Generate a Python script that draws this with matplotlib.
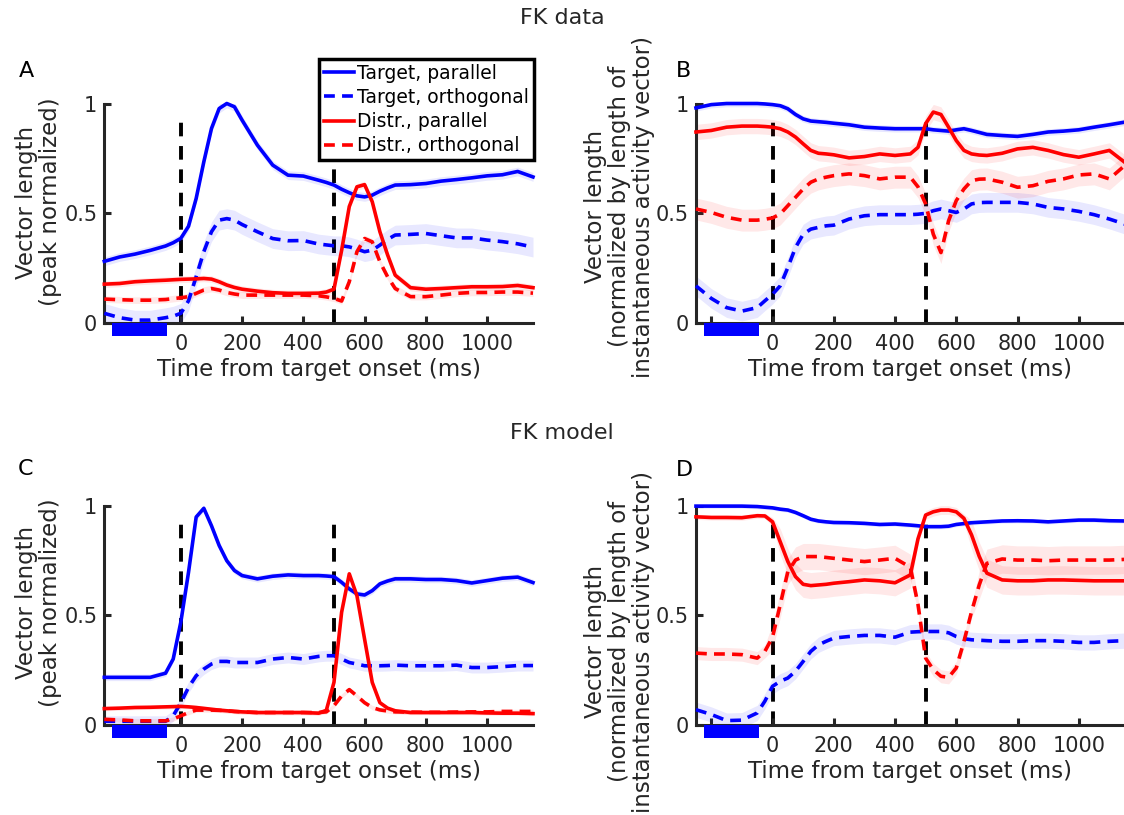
import matplotlib.pyplot as plt
import numpy as np

# time axis (ms from target onset), shared by all panels
t = [-250, -200, -150, -100, -50, -25, 0, 25, 50, 75, 100, 125, 150, 175, 200,
     250, 300, 350, 400, 450, 475, 500, 525, 550, 575, 600, 625, 650, 675, 700,
     750, 800, 850, 900, 950, 1000, 1050, 1100, 1150]

# Panel A: FK data, peak normalized
A_tp = [0.28, 0.30, 0.313, 0.33, 0.35, 0.365, 0.385, 0.44, 0.567, 0.734, 0.886, 0.977, 1.0, 0.985, 0.924,
        0.81, 0.719, 0.673, 0.669, 0.65, 0.64, 0.628, 0.609, 0.593, 0.579, 0.574, 0.582, 0.60, 0.615, 0.628,
        0.63, 0.635, 0.646, 0.653, 0.661, 0.67, 0.675, 0.69, 0.665]
A_to = [0.043, 0.023, 0.012, 0.012, 0.023, 0.03, 0.043, 0.10, 0.21, 0.324, 0.415, 0.468, 0.475, 0.468, 0.448,
        0.415, 0.384, 0.374, 0.375, 0.359, 0.355, 0.351, 0.351, 0.346, 0.336, 0.324, 0.331, 0.354, 0.38, 0.40,
        0.403, 0.407, 0.397, 0.387, 0.387, 0.377, 0.37, 0.36, 0.345]
A_dp = [0.176, 0.179, 0.187, 0.191, 0.194, 0.196, 0.198, 0.199, 0.20, 0.202, 0.199, 0.187, 0.172, 0.161, 0.153,
        0.144, 0.137, 0.134, 0.134, 0.135, 0.14, 0.153, 0.33, 0.53, 0.62, 0.63, 0.552, 0.415, 0.31, 0.217,
        0.16, 0.153, 0.156, 0.16, 0.164, 0.164, 0.165, 0.17, 0.16]
A_do = [0.108, 0.105, 0.103, 0.103, 0.106, 0.11, 0.114, 0.119, 0.134, 0.149, 0.156, 0.149, 0.138, 0.131, 0.126,
        0.126, 0.126, 0.126, 0.126, 0.123, 0.118, 0.111, 0.099, 0.187, 0.324, 0.384, 0.369, 0.278, 0.21, 0.156,
        0.119, 0.119, 0.126, 0.134, 0.138, 0.138, 0.14, 0.14, 0.135]

# Panel B: FK data, normalized by instantaneous activity
B_tp = [0.98, 0.995, 1.0, 1.0, 1.0, 0.998, 0.995, 0.99, 0.976, 0.95, 0.93, 0.92, 0.917, 0.914, 0.91,
        0.903, 0.892, 0.888, 0.885, 0.885, 0.885, 0.885, 0.88, 0.877, 0.874, 0.88, 0.885, 0.877, 0.868, 0.859,
        0.854, 0.85, 0.859, 0.87, 0.874, 0.88, 0.892, 0.903, 0.915]
B_to = [0.168, 0.111, 0.069, 0.053, 0.069, 0.10, 0.13, 0.168, 0.252, 0.343, 0.404, 0.427, 0.435, 0.442, 0.445,
        0.473, 0.488, 0.493, 0.493, 0.493, 0.495, 0.499, 0.511, 0.519, 0.511, 0.503, 0.519, 0.542, 0.548, 0.549,
        0.549, 0.549, 0.542, 0.526, 0.519, 0.508, 0.493, 0.473, 0.45]
B_dp = [0.87, 0.877, 0.892, 0.897, 0.897, 0.895, 0.892, 0.885, 0.87, 0.847, 0.816, 0.786, 0.773, 0.77, 0.766,
        0.752, 0.758, 0.77, 0.763, 0.77, 0.80, 0.908, 0.961, 0.95, 0.892, 0.831, 0.786, 0.77, 0.765, 0.763,
        0.773, 0.793, 0.80, 0.786, 0.767, 0.755, 0.77, 0.786, 0.732]
B_do = [0.519, 0.503, 0.481, 0.468, 0.468, 0.472, 0.478, 0.496, 0.534, 0.572, 0.61, 0.641, 0.656, 0.664, 0.671,
        0.679, 0.671, 0.656, 0.664, 0.664, 0.62, 0.542, 0.404, 0.32, 0.465, 0.557, 0.61, 0.648, 0.655, 0.656,
        0.641, 0.618, 0.625, 0.645, 0.656, 0.674, 0.679, 0.656, 0.717]

# Panel C: FK model, peak normalized
C_tp = [0.216, 0.216, 0.216, 0.216, 0.235, 0.30, 0.47, 0.697, 0.95, 0.99, 0.91, 0.82, 0.75, 0.705, 0.682,
        0.667, 0.679, 0.685, 0.682, 0.682, 0.68, 0.677, 0.651, 0.621, 0.598, 0.593, 0.613, 0.644, 0.657, 0.667,
        0.667, 0.664, 0.664, 0.659, 0.648, 0.659, 0.67, 0.675, 0.65]
C_to = [0.015, 0.015, 0.015, 0.015, 0.015, 0.04, 0.10, 0.17, 0.223, 0.254, 0.277, 0.289, 0.289, 0.284, 0.284,
        0.284, 0.30, 0.307, 0.30, 0.312, 0.315, 0.315, 0.30, 0.284, 0.277, 0.269, 0.269, 0.269, 0.27, 0.272,
        0.269, 0.269, 0.269, 0.272, 0.261, 0.261, 0.265, 0.27, 0.27]
C_dp = [0.073, 0.075, 0.078, 0.079, 0.081, 0.082, 0.083, 0.081, 0.078, 0.074, 0.07, 0.066, 0.063, 0.06, 0.058,
        0.055, 0.055, 0.055, 0.055, 0.052, 0.065, 0.193, 0.514, 0.69, 0.59, 0.391, 0.193, 0.10, 0.075, 0.063,
        0.055, 0.055, 0.055, 0.055, 0.055, 0.053, 0.052, 0.052, 0.05]
C_do = [0.024, 0.021, 0.017, 0.017, 0.017, 0.025, 0.04, 0.055, 0.066, 0.066, 0.066, 0.065, 0.063, 0.06, 0.058,
        0.055, 0.055, 0.055, 0.055, 0.055, 0.058, 0.086, 0.131, 0.16, 0.131, 0.10, 0.078, 0.067, 0.062, 0.058,
        0.057, 0.056, 0.056, 0.057, 0.058, 0.058, 0.06, 0.06, 0.06]

# Panel D: FK model, normalized by instantaneous activity
D_tp = [1.0, 1.0, 1.0, 1.0, 0.998, 0.995, 0.992, 0.986, 0.982, 0.971, 0.956, 0.94, 0.932, 0.928, 0.925,
        0.924, 0.921, 0.916, 0.918, 0.913, 0.91, 0.906, 0.906, 0.906, 0.908, 0.916, 0.92, 0.924, 0.926, 0.928,
        0.932, 0.933, 0.932, 0.928, 0.932, 0.936, 0.936, 0.933, 0.932]
D_to = [0.068, 0.046, 0.018, 0.02, 0.053, 0.107, 0.175, 0.198, 0.213, 0.244, 0.289, 0.335, 0.365, 0.381, 0.396,
        0.403, 0.408, 0.408, 0.40, 0.423, 0.425, 0.426, 0.426, 0.426, 0.42, 0.403, 0.393, 0.388, 0.386, 0.384,
        0.381, 0.381, 0.384, 0.384, 0.381, 0.376, 0.376, 0.381, 0.384]
D_dp = [0.951, 0.948, 0.948, 0.947, 0.956, 0.955, 0.928, 0.837, 0.746, 0.677, 0.642, 0.636, 0.639, 0.642, 0.647,
        0.654, 0.662, 0.658, 0.649, 0.685, 0.85, 0.959, 0.974, 0.982, 0.982, 0.974, 0.944, 0.868, 0.77, 0.693,
        0.662, 0.658, 0.658, 0.662, 0.662, 0.66, 0.658, 0.658, 0.658]
D_do = [0.327, 0.323, 0.323, 0.32, 0.304, 0.335, 0.40, 0.548, 0.70, 0.753, 0.769, 0.769, 0.769, 0.765, 0.761,
        0.753, 0.746, 0.753, 0.761, 0.72, 0.55, 0.304, 0.251, 0.221, 0.216, 0.259, 0.38, 0.517, 0.639, 0.738,
        0.758, 0.753, 0.753, 0.75, 0.753, 0.753, 0.753, 0.753, 0.756]

# half-width of shaded error bands (scalar, or one value per time point)
A_sem = [0.02, 0.045, 0.015, 0.015]
B_sem = [0.015, 0.045, 0.035, 0.05]
C_sem = [0.015, 0.025, 0.01, 0.01]
D_dp_sem = [0.012]*6 + [0.02] + [0.06]*13 + [0.02]*7 + [0.065]*12
D_do_sem = [0.03]*6 + [0.06]*14 + [0.03]*8 + [0.065]*11
D_sem = [0.01, 0.035, D_dp_sem, D_do_sem]

labels = ['Target, parallel', 'Target, orthogonal', 'Distr., parallel', 'Distr., orthogonal']
colors = ['#0000ff', '#0000ff', '#ff0000', '#ff0000']
styles = ['-', '--', '-', '--']

xtick_vals = [-200, 0, 200, 400, 600, 800, 1000]
bar_t = (-225, -45)      # fixation period bar
epochs = [0, 500]        # target onset, distractor onset

plt.rcParams.update({'font.size': 15, 'font.family': 'DejaVu Sans'})
fig = plt.figure(figsize=(11.24, 8.15), dpi=100)
axc = '#262626'


def panel(rect, series, sems, ylabel, labx, laby, show_m200):
    ax = fig.add_axes(rect)
    tt = np.array(t)
    for e in epochs:
        ax.plot([e, e], [0, 0.95], color='k', lw=2.8, dashes=(3.5, 2.5), zorder=1)
    lines = []
    for y, s, c, ls, lab in zip(series, sems, colors, styles, labels):
        y = np.array(y)
        s = np.array(s) * np.ones_like(y)
        ax.fill_between(tt, y - s, y + s, color=c, alpha=0.09, lw=0, zorder=2)
        ln, = ax.plot(tt, y, color=c, lw=2.6, ls=ls, label=lab, zorder=3, clip_on=False)
        if ls == '--':
            ln.set_dashes((3, 2))
        lines.append(ln)
    ax.set_xlim(-250, 1150)
    ax.set_ylim(0, 1)
    ax.add_patch(plt.Rectangle((bar_t[0], -0.06), bar_t[1] - bar_t[0], 0.06,
                               color='#0000ff', clip_on=False, zorder=4, lw=0))
    if show_m200:
        ax.set_xticks(xtick_vals)
        ax.set_xticklabels([''] + [str(v) for v in xtick_vals[1:]])
    else:
        ax.set_xticks(xtick_vals[1:])
    ax.set_yticks([0, 0.5, 1])
    ax.set_yticklabels(['0', '0.5', '1'])
    for side in ['top', 'right']:
        ax.spines[side].set_visible(False)
    for side in ['left', 'bottom']:
        ax.spines[side].set_linewidth(2.2)
        ax.spines[side].set_color(axc)
    ax.tick_params(direction='in', length=5, width=2.2, color=axc, labelcolor=axc,
                   labelsize=15)
    ax.tick_params(axis='x', pad=8)
    ax.tick_params(axis='y', pad=5)
    ax.set_xlabel('Time from target onset (ms)', fontsize=16.5, color=axc, labelpad=3)
    ax.set_ylabel(ylabel, fontsize=16.5, color=axc, linespacing=1.05)
    ax.yaxis.set_label_coords(labx, laby)
    return ax, lines


lab1 = 'Vector length\n(peak normalized)'
lab2 = 'Vector length\n(normalized by length of\ninstantaneous activity vector)'

axA, hA = panel([0.0928, 0.604, 0.3814, 0.269], [A_tp, A_to, A_dp, A_do], A_sem, lab1, -0.099, 0.55, False)
axB, _ = panel([0.6192, 0.604, 0.3814, 0.269], [B_tp, B_to, B_dp, B_do], B_sem, lab2, -0.096, 0.53, True)
axC, _ = panel([0.0928, 0.111, 0.3814, 0.268], [C_tp, C_to, C_dp, C_do], C_sem, lab1, -0.099, 0.56, False)
axD, _ = panel([0.6192, 0.111, 0.3814, 0.268], [D_tp, D_to, D_dp, D_do], D_sem, lab2, -0.096, 0.38, True)

leg = fig.legend(handles=hA, loc='upper right', bbox_to_anchor=(534 / 1124, 1 - 59 / 815),
                 fontsize=13.5, frameon=True, fancybox=False, framealpha=1, edgecolor='k',
                 handlelength=1.6, handletextpad=0.2, borderpad=0.25, labelspacing=0.28,
                 borderaxespad=0)
leg.get_frame().set_linewidth(2.5)

fig.text(0.5, 1 - 18 / 815, 'FK data', ha='center', va='center', fontsize=16, color=axc)
fig.text(0.5, 1 - 433 / 815, 'FK model', ha='center', va='center', fontsize=16, color=axc)
for lt, x, y in [('A', 26, 71), ('B', 684, 71), ('C', 26, 469), ('D', 684, 470)]:
    fig.text(x / 1124, 1 - y / 815, lt, ha='center', va='center', fontsize=16, color='k')

fig.savefig('out.png', dpi=100)
